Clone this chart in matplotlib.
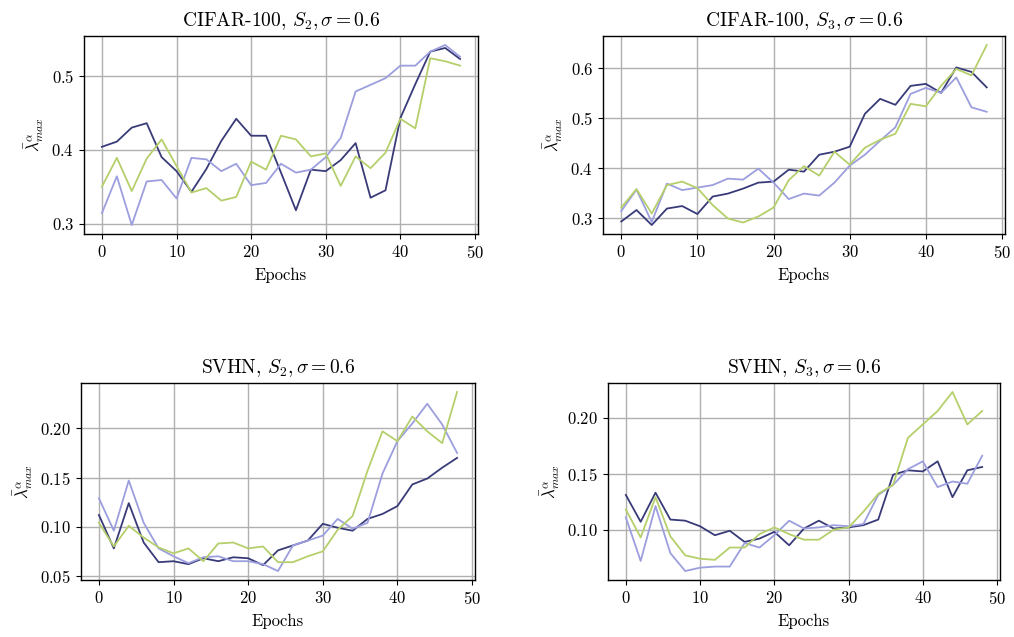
#!/usr/bin/env python3
"""Largest-eigenvalue curves over training epochs, 2x2 panels."""
import matplotlib
matplotlib.use("Agg")
import matplotlib.pyplot as plt
from matplotlib.ticker import MultipleLocator

plt.rcParams["font.family"] = ["cmr10", "DejaVu Serif"]
plt.rcParams["mathtext.fontset"] = "cm"
plt.rcParams["axes.formatter.use_mathtext"] = True
plt.rcParams["axes.unicode_minus"] = False

EPOCHS = list(range(0, 50, 2))
COLORS = ["#393b79", "#9c9ede", "#b5cf6b"]

TITLES = [r"CIFAR-100, $S_2, \sigma = 0.6$", r"CIFAR-100, $S_3, \sigma = 0.6$",
          r"SVHN, $S_2, \sigma = 0.6$", r"SVHN, $S_3, \sigma = 0.6$"]
YSTEPS = [0.1, 0.1, 0.05, 0.05]

# CIFAR-100, S2
c2_navy = [0.404, 0.411, 0.430, 0.436, 0.390, 0.371, 0.343, 0.374, 0.412, 0.442,
           0.419, 0.419, 0.369, 0.318, 0.373, 0.371, 0.386, 0.409, 0.335, 0.345,
           0.443, 0.489, 0.533, 0.538, 0.523]
c2_lav = [0.314, 0.364, 0.298, 0.357, 0.359, 0.334, 0.389, 0.387, 0.371, 0.381,
          0.352, 0.355, 0.381, 0.369, 0.373, 0.390, 0.416, 0.479, 0.488, 0.497,
          0.514, 0.514, 0.533, 0.542, 0.526]
c2_green = [0.350, 0.389, 0.344, 0.388, 0.414, 0.378, 0.342, 0.348, 0.331, 0.336,
            0.384, 0.373, 0.419, 0.414, 0.391, 0.395, 0.351, 0.391, 0.375, 0.396,
            0.442, 0.429, 0.524, 0.520, 0.514]

# CIFAR-100, S3
c3_navy = [0.293, 0.316, 0.286, 0.319, 0.324, 0.308, 0.343, 0.349, 0.359, 0.371,
           0.373, 0.397, 0.393, 0.427, 0.433, 0.443, 0.509, 0.539, 0.527, 0.565,
           0.569, 0.551, 0.602, 0.593, 0.562]
c3_lav = [0.314, 0.357, 0.292, 0.369, 0.356, 0.361, 0.366, 0.379, 0.377, 0.399,
          0.371, 0.338, 0.349, 0.345, 0.371, 0.405, 0.427, 0.455, 0.482, 0.549,
          0.561, 0.551, 0.582, 0.522, 0.513]
c3_green = [0.321, 0.358, 0.309, 0.366, 0.373, 0.360, 0.326, 0.299, 0.291, 0.303,
            0.321, 0.376, 0.404, 0.385, 0.433, 0.407, 0.441, 0.457, 0.469, 0.529,
            0.524, 0.565, 0.599, 0.586, 0.647]

# SVHN, S2
s2_navy = [0.112, 0.078, 0.124, 0.084, 0.064, 0.065, 0.062, 0.068, 0.065, 0.069,
           0.068, 0.061, 0.076, 0.081, 0.086, 0.103, 0.099, 0.096, 0.108, 0.113,
           0.121, 0.143, 0.149, 0.160, 0.170]
s2_lav = [0.129, 0.096, 0.147, 0.104, 0.078, 0.070, 0.063, 0.069, 0.070, 0.065,
          0.065, 0.062, 0.055, 0.081, 0.086, 0.091, 0.108, 0.098, 0.104, 0.154,
          0.187, 0.205, 0.225, 0.204, 0.175]
s2_green = [0.104, 0.080, 0.101, 0.089, 0.079, 0.073, 0.078, 0.065, 0.083, 0.084,
            0.078, 0.080, 0.064, 0.064, 0.070, 0.075, 0.097, 0.111, 0.157, 0.197,
            0.187, 0.212, 0.197, 0.185, 0.237]

# SVHN, S3
s3_navy = [0.131, 0.107, 0.133, 0.109, 0.108, 0.103, 0.095, 0.099, 0.089, 0.092,
           0.098, 0.086, 0.101, 0.108, 0.101, 0.102, 0.104, 0.109, 0.149, 0.153,
           0.152, 0.161, 0.129, 0.153, 0.156]
s3_lav = [0.111, 0.072, 0.121, 0.079, 0.063, 0.066, 0.067, 0.067, 0.088, 0.084,
          0.095, 0.108, 0.101, 0.102, 0.104, 0.103, 0.105, 0.131, 0.140, 0.154,
          0.161, 0.138, 0.143, 0.141, 0.166]
s3_green = [0.118, 0.093, 0.129, 0.094, 0.077, 0.074, 0.073, 0.084, 0.084, 0.096,
            0.102, 0.096, 0.091, 0.091, 0.100, 0.102, 0.116, 0.132, 0.140, 0.182,
            0.194, 0.206, 0.223, 0.194, 0.206]

PANELS = [(c2_navy, c2_lav, c2_green), (c3_navy, c3_lav, c3_green),
          (s2_navy, s2_lav, s2_green), (s3_navy, s3_lav, s3_green)]

W, H = 1014, 637
# axes boxes in pixels: left, top, right, bottom
BOXES = [(84, 36, 478, 234), (603, 36, 1005, 234),
         (81, 383, 475, 580), (608, 383, 1000, 580)]

fig = plt.figure(figsize=(W / 100, H / 100), dpi=100)
for (l, t, r, b), title, series, step in zip(BOXES, TITLES, PANELS, YSTEPS):
    ax = fig.add_axes([l / W, 1 - b / H, (r - l) / W, (b - t) / H])
    for ys, c in zip(series, COLORS):
        ax.plot(EPOCHS, ys, color=c, lw=1.3)
    ax.grid(True, color="#b0b0b0", lw=1.0)
    ax.set_axisbelow(True)
    ax.set_title(title, fontsize=14, pad=7)
    ax.set_xlabel("Epochs", fontsize=12, labelpad=5)
    ax.set_ylabel(r"$\bar{\lambda}^{\alpha}_{max}$", fontsize=12, labelpad=4)
    ax.set_xticks([0, 10, 20, 30, 40, 50])
    ax.yaxis.set_major_locator(MultipleLocator(step))
    ax.tick_params(labelsize=12)
    for sp in ax.spines.values():
        sp.set_linewidth(1.0)

fig.savefig("out.png", dpi=100)
